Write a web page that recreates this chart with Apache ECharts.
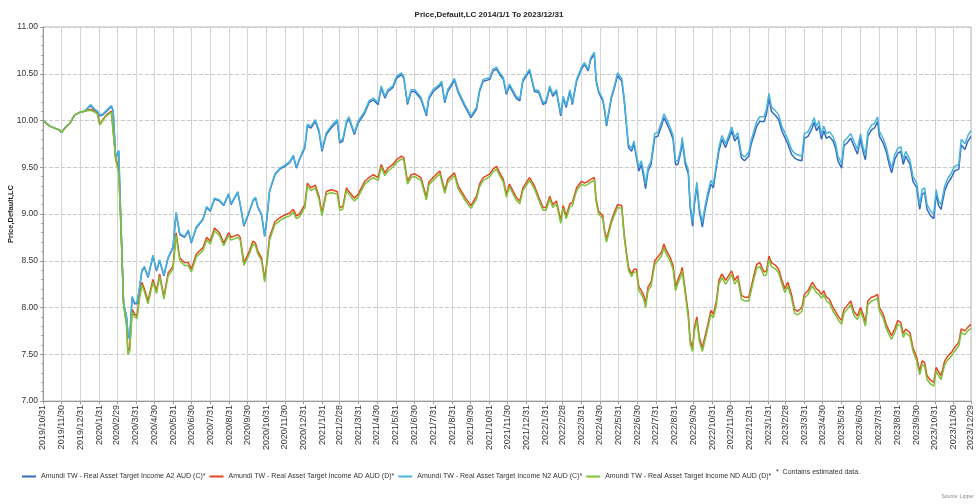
<!DOCTYPE html>
<html lang="en">

<head>
	<meta charset="UTF-8" />
	<script src="https://cdn.jsdelivr.net/npm/echarts@6/dist/echarts.min.js"></script>
	<title>Price,Default,LC</title>
	<style>
		html, body { margin: 0; padding: 0; background: #fff; }
		#main { width: 978px; height: 504px; }
	</style>
</head>

<body>
	<div id="main"></div>

	<script type="text/javascript">
		// sample dates shared by all four share classes
		const dates = [
			'2019-10-31','2019-11-11','2019-11-22','2019-11-27','2019-11-30','2019-12-06','2019-12-14','2019-12-22','2019-12-31','2020-01-07',
			'2020-01-17','2020-01-24','2020-01-28','2020-02-01','2020-02-06','2020-02-12','2020-02-20','2020-02-23','2020-02-27','2020-03-03',
			'2020-03-07','2020-03-11','2020-03-16','2020-03-18','2020-03-21','2020-03-25','2020-03-29','2020-04-02','2020-04-06','2020-04-10',
			'2020-04-14','2020-04-20','2020-04-28','2020-05-04','2020-05-09','2020-05-16','2020-05-23','2020-05-31','2020-06-05','2020-06-11',
			'2020-06-19','2020-06-25','2020-06-30','2020-07-08','2020-07-19','2020-07-25','2020-07-31','2020-08-07','2020-08-15','2020-08-22',
			'2020-08-30','2020-09-03','2020-09-14','2020-09-18','2020-09-24','2020-10-01','2020-10-09','2020-10-13','2020-10-17','2020-10-23',
			'2020-10-28','2020-11-01','2020-11-05','2020-11-14','2020-11-22','2020-11-30','2020-12-08','2020-12-14','2020-12-19','2020-12-24',
			'2021-01-02','2021-01-06','2021-01-12','2021-01-19','2021-01-25','2021-01-30','2021-02-06','2021-02-14','2021-02-24','2021-02-28',
			'2021-03-05','2021-03-11','2021-03-15','2021-03-24','2021-03-30','2021-04-10','2021-04-17','2021-04-24','2021-05-02','2021-05-07',
			'2021-05-13','2021-05-18','2021-05-26','2021-06-01','2021-06-09','2021-06-13','2021-06-19','2021-06-25','2021-07-01','2021-07-11',
			'2021-07-20','2021-07-24','2021-07-31','2021-08-11','2021-08-14','2021-08-19','2021-08-24','2021-09-04','2021-09-10','2021-09-21',
			'2021-10-01','2021-10-10','2021-10-15','2021-10-21','2021-11-01','2021-11-06','2021-11-12','2021-11-17','2021-11-23','2021-11-28',
			'2021-12-03','2021-12-14','2021-12-20','2021-12-25','2022-01-05','2022-01-13','2022-01-20','2022-01-27','2022-02-01','2022-02-07',
			'2022-02-12','2022-02-18','2022-02-25','2022-03-01','2022-03-06','2022-03-12','2022-03-16','2022-03-23','2022-03-31','2022-04-05',
			'2022-04-11','2022-04-15','2022-04-21','2022-04-24','2022-04-28','2022-05-05','2022-05-08','2022-05-11','2022-05-19','2022-05-24',
			'2022-05-29','2022-06-05','2022-06-09','2022-06-13','2022-06-16','2022-06-21','2022-06-25','2022-06-29','2022-07-03','2022-07-07',
			'2022-07-11','2022-07-14','2022-07-18','2022-07-23','2022-07-29','2022-08-03','2022-08-09','2022-08-13','2022-08-17','2022-08-23',
			'2022-08-28','2022-09-01','2022-09-05','2022-09-10','2022-09-12','2022-09-17','2022-09-22','2022-09-25','2022-09-29','2022-10-02',
			'2022-10-06','2022-10-10','2022-10-15','2022-10-19','2022-10-24','2022-10-29','2022-11-02','2022-11-07','2022-11-11','2022-11-16',
			'2022-11-22','2022-11-27','2022-12-02','2022-12-07','2022-12-12','2022-12-18','2022-12-23','2022-12-30','2023-01-03','2023-01-08',
			'2023-01-12','2023-01-17','2023-01-24','2023-01-28','2023-02-01','2023-02-05','2023-02-12','2023-02-17','2023-02-22','2023-02-27',
			'2023-03-04','2023-03-10','2023-03-15','2023-03-20','2023-03-27','2023-03-31','2023-04-06','2023-04-13','2023-04-16','2023-04-20',
			'2023-04-24','2023-04-28','2023-05-02','2023-05-06','2023-05-11','2023-05-17','2023-05-21','2023-05-25','2023-05-31','2023-06-04',
			'2023-06-09','2023-06-15','2023-06-20','2023-06-26','2023-07-01','2023-07-05','2023-07-09','2023-07-13','2023-07-19','2023-07-24',
			'2023-07-29','2023-08-01','2023-08-07','2023-08-12','2023-08-17','2023-08-21','2023-08-26','2023-08-31','2023-09-05','2023-09-09',
			'2023-09-13','2023-09-20','2023-09-25','2023-10-01','2023-10-06','2023-10-10','2023-10-14','2023-10-18','2023-10-24','2023-10-29',
			'2023-11-02','2023-11-06','2023-11-10','2023-11-16','2023-11-21','2023-11-27','2023-12-02','2023-12-09','2023-12-13','2023-12-19',
			'2023-12-24','2023-12-29'
		];

		// A2 AUD (C)
		const a2Values = [
			10.00,9.94,9.91,9.90,9.87,9.92,9.97,10.06,10.09,10.10,
			10.16,10.11,10.10,10.05,10.06,10.10,10.15,10.10,9.60,9.67,
			8.82,8.04,7.89,7.72,7.66,8.11,8.04,8.04,8.20,8.39,
			8.43,8.32,8.55,8.39,8.50,8.34,8.53,8.64,9.01,8.78,
			8.75,8.82,8.69,8.85,8.94,9.07,9.03,9.16,9.14,9.09,
			9.21,9.10,9.23,9.10,8.87,8.99,9.14,9.17,9.07,8.99,
			8.76,8.96,9.24,9.42,9.48,9.51,9.55,9.62,9.49,9.58,
			9.71,9.94,9.92,9.99,9.88,9.67,9.85,9.92,9.99,9.76,
			9.78,9.97,10.02,9.85,9.97,10.08,10.19,10.22,10.17,10.35,
			10.24,10.31,10.35,10.45,10.49,10.45,10.17,10.31,10.31,10.23,
			10.05,10.23,10.31,10.37,10.40,10.19,10.31,10.43,10.30,10.15,
			10.03,10.12,10.31,10.42,10.44,10.53,10.55,10.49,10.44,10.28,
			10.37,10.24,10.21,10.42,10.53,10.31,10.30,10.17,10.19,10.35,
			10.26,10.31,10.05,10.24,10.14,10.31,10.17,10.42,10.55,10.60,
			10.53,10.65,10.71,10.42,10.30,10.21,10.10,9.94,10.24,10.35,
			10.48,10.42,10.21,9.92,9.71,9.67,9.75,9.60,9.46,9.53,
			9.39,9.27,9.46,9.53,9.82,9.83,9.94,10.03,9.98,9.89,
			9.80,9.53,9.53,9.67,9.78,9.53,9.43,9.07,8.87,9.10,
			9.30,9.03,8.86,9.03,9.19,9.32,9.28,9.50,9.67,9.80,
			9.71,9.80,9.89,9.78,9.83,9.60,9.57,9.62,9.75,9.85,
			9.94,9.99,9.99,10.07,10.24,10.10,10.05,10.01,9.89,9.82,
			9.75,9.64,9.60,9.58,9.57,9.81,9.83,9.92,9.98,9.89,
			9.94,9.80,9.89,9.81,9.83,9.78,9.71,9.57,9.49,9.73,
			9.76,9.81,9.73,9.64,9.81,9.67,9.58,9.83,9.90,9.92,
			9.99,9.83,9.76,9.67,9.53,9.44,9.58,9.65,9.67,9.53,
			9.62,9.53,9.35,9.28,9.05,9.21,9.23,9.05,8.98,8.95,
			9.21,9.09,9.05,9.25,9.33,9.39,9.46,9.48,9.74,9.69,
			9.78,9.83
		];

		// AD AUD (D)
		const adValues = [
			10.00,9.94,9.91,9.90,9.87,9.92,9.97,10.06,10.09,10.10,
			10.12,10.10,10.08,9.96,10.01,10.06,10.10,10.08,9.60,9.48,
			8.82,8.04,7.82,7.54,7.57,7.98,7.93,7.91,8.12,8.27,
			8.20,8.07,8.30,8.18,8.36,8.12,8.37,8.44,8.80,8.53,
			8.48,8.48,8.41,8.57,8.64,8.75,8.71,8.85,8.80,8.69,
			8.80,8.75,8.78,8.75,8.48,8.57,8.71,8.69,8.60,8.53,
			8.30,8.50,8.75,8.92,8.96,8.99,9.01,9.05,8.98,9.00,
			9.10,9.33,9.28,9.31,9.19,9.01,9.24,9.26,9.24,9.07,
			9.08,9.28,9.24,9.17,9.21,9.35,9.39,9.42,9.39,9.53,
			9.44,9.49,9.53,9.58,9.62,9.60,9.35,9.42,9.43,9.39,
			9.18,9.34,9.39,9.46,9.44,9.25,9.37,9.44,9.30,9.18,
			9.09,9.19,9.32,9.39,9.43,9.48,9.51,9.44,9.37,9.21,
			9.32,9.18,9.14,9.28,9.39,9.30,9.18,9.07,9.07,9.19,
			9.10,9.14,8.93,9.09,8.98,9.11,9.12,9.28,9.35,9.33,
			9.35,9.37,9.39,9.16,9.03,8.98,8.82,8.73,8.93,9.02,
			9.10,9.09,8.78,8.57,8.43,8.36,8.41,8.41,8.22,8.18,
			8.13,8.04,8.22,8.27,8.50,8.54,8.59,8.68,8.61,8.54,
			8.45,8.22,8.30,8.38,8.43,8.18,7.93,7.65,7.57,7.79,
			7.90,7.68,7.57,7.68,7.82,7.97,7.93,8.07,8.29,8.36,
			8.29,8.34,8.39,8.29,8.34,8.13,8.11,8.11,8.22,8.36,
			8.46,8.48,8.38,8.39,8.55,8.48,8.45,8.41,8.30,8.20,
			8.27,8.14,7.98,7.96,8.00,8.14,8.18,8.27,8.25,8.20,
			8.18,8.14,8.18,8.11,8.09,8.00,7.96,7.91,7.86,7.98,
			8.02,8.07,7.96,7.91,8.00,7.93,7.84,8.07,8.11,8.12,
			8.14,8.00,7.93,7.82,7.75,7.70,7.77,7.86,7.84,7.72,
			7.77,7.73,7.57,7.47,7.32,7.43,7.41,7.27,7.22,7.20,
			7.36,7.31,7.27,7.43,7.48,7.52,7.57,7.63,7.77,7.75,
			7.79,7.82
		];

		// N2 AUD (C)
		const n2Values = [
			10.00,9.94,9.91,9.90,9.87,9.92,9.97,10.06,10.09,10.10,
			10.17,10.12,10.10,10.06,10.07,10.11,10.16,10.11,9.61,9.68,
			8.83,8.05,7.90,7.73,7.67,8.12,8.05,8.05,8.21,8.40,
			8.44,8.33,8.56,8.40,8.51,8.35,8.54,8.65,9.02,8.79,
			8.76,8.83,8.70,8.86,8.95,9.08,9.04,9.17,9.15,9.10,
			9.22,9.11,9.24,9.11,8.88,9.00,9.15,9.18,9.08,9.00,
			8.77,8.97,9.25,9.43,9.49,9.52,9.56,9.63,9.50,9.59,
			9.73,9.96,9.94,10.01,9.90,9.69,9.87,9.94,10.01,9.78,
			9.80,9.99,10.04,9.87,9.99,10.10,10.21,10.24,10.19,10.37,
			10.26,10.33,10.37,10.47,10.51,10.47,10.19,10.33,10.33,10.25,
			10.07,10.25,10.33,10.39,10.42,10.21,10.33,10.45,10.32,10.17,
			10.05,10.14,10.33,10.44,10.46,10.55,10.57,10.51,10.46,10.30,
			10.39,10.26,10.23,10.44,10.55,10.33,10.32,10.19,10.21,10.37,
			10.28,10.33,10.07,10.26,10.16,10.33,10.19,10.44,10.57,10.62,
			10.55,10.67,10.73,10.44,10.32,10.23,10.12,9.96,10.26,10.37,
			10.51,10.45,10.24,9.95,9.74,9.70,9.78,9.63,9.50,9.57,
			9.44,9.32,9.50,9.57,9.86,9.87,9.98,10.07,10.02,9.93,
			9.84,9.57,9.57,9.71,9.82,9.57,9.47,9.11,8.92,9.14,
			9.34,9.07,8.91,9.07,9.23,9.36,9.32,9.54,9.71,9.84,
			9.75,9.84,9.93,9.82,9.87,9.64,9.61,9.66,9.79,9.90,
			9.99,10.04,10.04,10.12,10.29,10.15,10.10,10.06,9.94,9.87,
			9.80,9.69,9.65,9.63,9.62,9.86,9.88,9.97,10.03,9.94,
			9.99,9.85,9.94,9.86,9.88,9.83,9.76,9.62,9.54,9.78,
			9.81,9.86,9.78,9.69,9.86,9.72,9.63,9.88,9.95,9.97,
			10.04,9.88,9.81,9.72,9.58,9.49,9.63,9.70,9.72,9.58,
			9.67,9.58,9.40,9.33,9.10,9.26,9.28,9.10,9.03,9.00,
			9.26,9.14,9.10,9.30,9.38,9.44,9.51,9.53,9.80,9.75,
			9.84,9.89
		];

		// ND AUD (D)
		const ndValues = [
			10.00,9.94,9.91,9.90,9.87,9.92,9.97,10.06,10.09,10.10,
			10.11,10.09,10.07,9.95,10.00,10.05,10.09,10.07,9.58,9.44,
			8.80,8.02,7.79,7.50,7.53,7.95,7.90,7.88,8.09,8.24,
			8.17,8.04,8.27,8.15,8.33,8.09,8.34,8.41,8.77,8.50,
			8.45,8.45,8.38,8.54,8.61,8.72,8.68,8.82,8.77,8.66,
			8.77,8.72,8.75,8.72,8.45,8.54,8.68,8.66,8.57,8.50,
			8.27,8.47,8.72,8.89,8.93,8.96,8.98,9.02,8.95,8.97,
			9.07,9.30,9.25,9.28,9.16,8.98,9.21,9.23,9.21,9.04,
			9.05,9.25,9.21,9.14,9.18,9.32,9.36,9.39,9.36,9.50,
			9.41,9.46,9.50,9.55,9.59,9.57,9.32,9.39,9.40,9.36,
			9.15,9.31,9.36,9.43,9.41,9.22,9.34,9.41,9.27,9.15,
			9.06,9.16,9.29,9.36,9.40,9.45,9.48,9.41,9.34,9.18,
			9.29,9.15,9.11,9.25,9.36,9.27,9.15,9.04,9.04,9.16,
			9.07,9.11,8.90,9.06,8.95,9.08,9.09,9.25,9.32,9.30,
			9.32,9.34,9.36,9.13,9.00,8.95,8.79,8.70,8.90,8.99,
			9.07,9.06,8.75,8.54,8.40,8.33,8.38,8.38,8.18,8.14,
			8.09,8.00,8.18,8.23,8.46,8.50,8.55,8.64,8.57,8.50,
			8.41,8.18,8.26,8.34,8.39,8.14,7.89,7.61,7.53,7.75,
			7.86,7.64,7.53,7.64,7.78,7.93,7.89,8.03,8.25,8.32,
			8.25,8.30,8.35,8.25,8.30,8.09,8.07,8.07,8.18,8.32,
			8.42,8.44,8.34,8.35,8.51,8.44,8.41,8.37,8.26,8.16,
			8.23,8.10,7.94,7.92,7.96,8.10,8.14,8.23,8.21,8.16,
			8.14,8.10,8.14,8.07,8.05,7.96,7.92,7.87,7.82,7.94,
			7.98,8.03,7.92,7.87,7.96,7.89,7.80,8.03,8.07,8.08,
			8.10,7.96,7.89,7.78,7.71,7.66,7.73,7.82,7.80,7.68,
			7.73,7.69,7.53,7.43,7.28,7.39,7.37,7.23,7.18,7.16,
			7.32,7.27,7.23,7.39,7.44,7.48,7.53,7.59,7.73,7.71,
			7.75,7.78
		];

		// x axis tick labels (month ends)
		const monthEnds = [
			'2019-10-31','2019-11-30','2019-12-31','2020-01-31','2020-02-29','2020-03-31','2020-04-30','2020-05-31','2020-06-30',
			'2020-07-31','2020-08-31','2020-09-30','2020-10-31','2020-11-30','2020-12-31','2021-01-31','2021-02-28','2021-03-31',
			'2021-04-30','2021-05-31','2021-06-30','2021-07-31','2021-08-31','2021-09-30','2021-10-31','2021-11-30','2021-12-31',
			'2022-01-31','2022-02-28','2022-03-31','2022-04-30','2022-05-31','2022-06-30','2022-07-31','2022-08-31','2022-09-30',
			'2022-10-31','2022-11-30','2022-12-31','2023-01-31','2023-02-28','2023-03-31','2023-04-30','2023-05-31','2023-06-30',
			'2023-07-31','2023-08-31','2023-09-30','2023-10-31','2023-11-30','2023-12-29'
		];

		const seriesNames = [
			'Amundi TW - Real Asset Target Income A2 AUD (C)*',
			'Amundi TW - Real Asset Target Income AD AUD (D)*',
			'Amundi TW - Real Asset Target Income N2 AUD (C)*',
			'Amundi TW - Real Asset Target Income ND AUD (D)*'
		];
		const seriesColors = ['#356bbf', '#e2471d', '#48b4dd', '#7cc23a'];
		const allValues = [a2Values, adValues, n2Values, ndValues];

		const toTime = s => new Date(s.replace(/-/g, '/')).getTime();
		const tickTimes = monthEnds.map(toTime);
		const fmtDay = v => {
			const d = new Date(v);
			return `${d.getFullYear()}/${d.getMonth() + 1}/${d.getDate()}`;
		};

		const font = 'Liberation Sans, Arial, sans-serif';
		const chart = echarts.init(document.getElementById('main'));

		const series = allValues.map((vals, i) => ({
			name: seriesNames[i],
			type: 'line',
			showSymbol: false,
			color: seriesColors[i],
			lineStyle: { width: 1.5 },
			data: dates.map((d, j) => [toTime(d), vals[j]]),
		}));

		const option = {
			animation: false,
			backgroundColor: '#fff',
			title: {
				text: 'Price,Default,LC 2014/1/1 To 2023/12/31',
				left: 'center',
				top: 6,
				textStyle: { fontFamily: font, fontSize: 8, fontWeight: 'bold', color: '#222' },
			},
			grid: {
				left: 43, right: 7, top: 27, bottom: 103,
				outerBoundsMode: 'none',
				show: true, borderColor: '#bbb', borderWidth: 1,
			},
			legend: {
				left: 17,
				top: 468,
				icon: 'rect',
				itemWidth: 14,
				itemHeight: 2,
				itemGap: 4,
				textStyle: { fontFamily: font, fontSize: 7, color: '#333' },
				data: seriesNames,
			},
			graphic: [
				{
					type: 'text',
					left: 776,
					top: 469,
					style: { text: '*  Contains estimated data.', font: `7px ${font}`, fill: '#333' },
				},
				{
					type: 'text',
					right: 4,
					top: 494,
					style: { text: 'Source: Lipper', font: `5px ${font}`, fill: '#888' },
				},
			],
			// numeric axis holding timestamps so the month-end ticks can be placed exactly
			xAxis: {
				type: 'value',
				min: tickTimes[0],
				max: tickTimes[tickTimes.length - 1],
				axisLine: { lineStyle: { color: '#999' } },
				axisTick: { show: true, length: 3, customValues: tickTimes, lineStyle: { color: '#999' } },
				axisLabel: {
					customValues: tickTimes,
					rotate: 90,
					fontFamily: font,
					fontSize: 9,
					color: '#333',
					margin: 4,
					formatter: fmtDay,
				},
				splitLine: { show: true, lineStyle: { color: '#d4d4d4', width: 1 } },
			},
			yAxis: {
				type: 'value',
				min: 7,
				max: 11,
				interval: 0.5,
				name: 'Price,Default,LC',
				nameLocation: 'middle',
				nameGap: 28,
				nameMoveOverlap: false,
				nameTextStyle: { fontFamily: font, fontSize: 7.5, fontWeight: 'bold', color: '#222' },
				axisLine: { show: true, lineStyle: { color: '#999' } },
				axisTick: { show: true, length: 3, lineStyle: { color: '#999' } },
				minorTick: { show: true, splitNumber: 5, length: 2, lineStyle: { color: '#aaa' } },
				axisLabel: {
					fontFamily: font,
					fontSize: 8.5,
					color: '#333',
					margin: 5,
					formatter: v => v.toFixed(2),
				},
				splitLine: { show: true, lineStyle: { color: '#c8c8c8', type: 'dashed' } },
			},
			series,
		};
		chart.setOption(option);
	</script>
</body>

</html>
